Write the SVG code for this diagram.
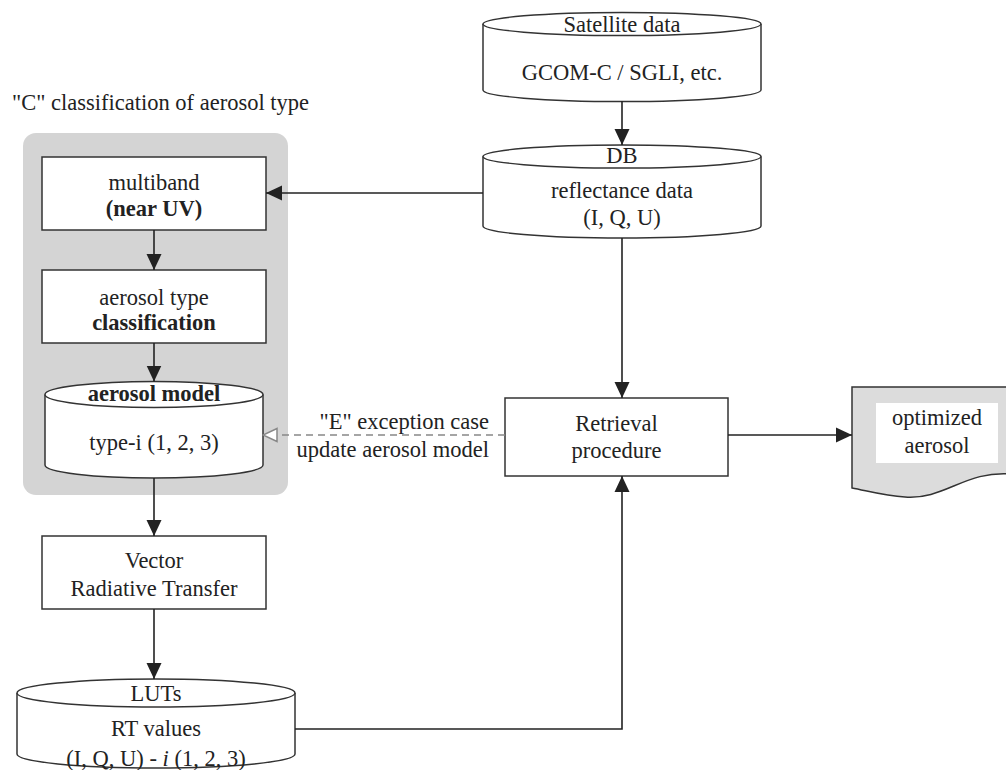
<svg xmlns="http://www.w3.org/2000/svg" width="1006" height="770" viewBox="0 0 1006 770">
<style>
text{font-family:"Liberation Serif","Times New Roman",serif;font-size:22.5px;fill:#222;text-anchor:middle}
.b{font-weight:bold}
.box{fill:#fff;stroke:#333;stroke-width:1.5}
.cyl{fill:#fff;stroke:#333;stroke-width:1.5}
.con{fill:none;stroke:#222;stroke-width:1.6}
.dash{fill:none;stroke:#888;stroke-width:1.5;stroke-dasharray:7 5}
</style>
<defs>
<marker id="ah" markerWidth="16" markerHeight="16" viewBox="0 0 16 16" refX="16" refY="8" orient="auto" markerUnits="userSpaceOnUse">
<path d="M0,0.5 L16,8 L0,15.5 Z" fill="#222"/>
</marker>
<marker id="oh" markerWidth="16" markerHeight="16" viewBox="0 0 16 16" refX="15" refY="8" orient="auto" markerUnits="userSpaceOnUse">
<path d="M1,1.5 L15,8 L1,14.5 Z" fill="#fff" stroke="#888" stroke-width="1.5"/>
</marker>
</defs>

<text x="12" y="110" style="text-anchor:start">"C" classification of aerosol type</text>
<rect id="group-c" x="23" y="133" width="265" height="362" rx="13" fill="#d4d4d4"/>

<g id="satellite">
<path class="cyl" d="M483,24 V90 A139,11.5 0 0 0 761,90 V24"/>
<ellipse class="cyl" cx="622" cy="24" rx="139" ry="11.5"/>
<text x="622" y="32">Satellite data</text>
<text x="622" y="80">GCOM-C / SGLI,  etc.</text>
</g>

<g id="db">
<path class="cyl" d="M483,156.5 V226 A139,12 0 0 0 761,226 V156.5"/>
<ellipse class="cyl" cx="622" cy="156.5" rx="139" ry="11.5"/>
<text x="622" y="163">DB</text>
<text x="622" y="198">reflectance data</text>
<text x="622" y="225">(I, Q, U)</text>
</g>

<g id="multiband">
<rect class="box" x="42" y="157" width="224" height="73"/>
<text x="154" y="190">multiband</text>
<text x="154" y="216" class="b">(near UV)</text>
</g>

<g id="classification">
<rect class="box" x="42" y="270" width="224" height="73"/>
<text x="154" y="305">aerosol type</text>
<text x="154" y="330" class="b">classification</text>
</g>

<g id="aerosol-model">
<path class="cyl" d="M45,394.5 V465 A109,13 0 0 0 263,465 V394.5"/>
<ellipse class="cyl" cx="154" cy="394.5" rx="109" ry="13"/>
<text x="154" y="401" class="b">aerosol model</text>
<text x="154" y="450">type-i (1, 2, 3)</text>
</g>

<g id="vrt">
<rect class="box" x="42" y="536" width="224" height="73"/>
<text x="154" y="568">Vector</text>
<text x="154" y="596">Radiative Transfer</text>
</g>

<g id="luts">
<path class="cyl" d="M17,693 V754 A139,14 0 0 0 295,754 V693"/>
<ellipse class="cyl" cx="156" cy="693" rx="139" ry="14"/>
<text x="156" y="701">LUTs</text>
<text x="156" y="736">RT values</text>
<text x="156" y="766">(I, Q, U) - <tspan font-style="italic">i</tspan> (1, 2, 3)</text>
</g>

<g id="retrieval">
<rect class="box" x="505" y="398" width="223" height="78"/>
<text x="616.5" y="431">Retrieval</text>
<text x="616.5" y="458">procedure</text>
</g>

<g id="optimized">
<path d="M852,387 H1012 V474 C965,470 945,500 905,497 C885,496 868,491 852,488 Z" fill="#dcdcdc" stroke="#333" stroke-width="1.5"/>
<rect x="876" y="403" width="122" height="60" fill="#fff"/>
<text x="937" y="425">optimized</text>
<text x="937" y="453">aerosol</text>
</g>

<g id="connectors">
<path class="con" d="M622,101 V145" marker-end="url(#ah)"/>
<path class="con" d="M483,193 H266" marker-end="url(#ah)"/>
<path class="con" d="M622,238 V398" marker-end="url(#ah)"/>
<path class="con" d="M154,230 V270" marker-end="url(#ah)"/>
<path class="con" d="M154,343 V381.5" marker-end="url(#ah)"/>
<path class="con" d="M154,478 V536" marker-end="url(#ah)"/>
<path class="con" d="M154,609 V679" marker-end="url(#ah)"/>
<path class="con" d="M295,729 H622 V476" marker-end="url(#ah)"/>
<path class="con" d="M728,435 H852" marker-end="url(#ah)"/>
<path class="dash" d="M505,435 H263" marker-end="url(#oh)"/>
<text x="489" y="429" style="text-anchor:end">"E" exception case</text>
<text x="489" y="457" style="text-anchor:end">update aerosol model</text>
</g>
</svg>
